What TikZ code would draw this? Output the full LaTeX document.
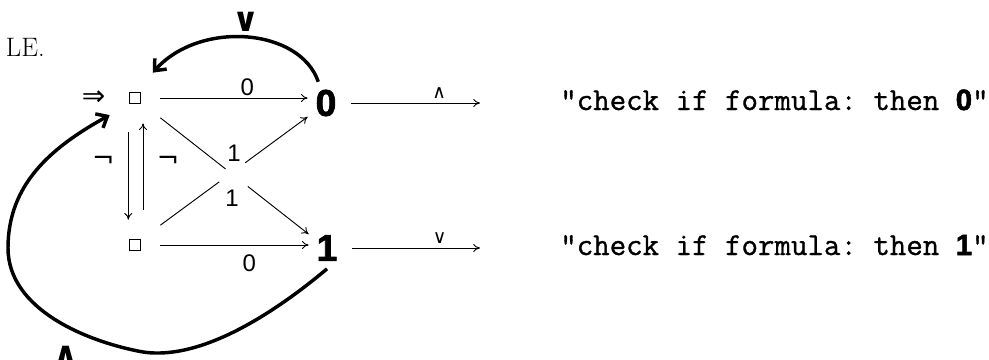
\documentclass[tikz,border=0pt]{standalone}
\usepackage{amsmath,amssymb}
\usepackage{fontspec}
\setsansfont{Liberation Sans}
\newfontfamily\heavyfont{Liberation Sans}[FakeBold=2]
\newfontfamily\logicfont{DejaVu Sans}
\newfontfamily\typefont{Latin Modern Mono}[FakeBold=1]
\usetikzlibrary{positioning,calc,arrows.meta}

\newcommand{\fsz}[1]{\fontsize{#1}{#1}\selectfont}

\begin{document}
\begin{tikzpicture}[x=0.75pt, y=-0.75pt,
    every node/.style={text=black},
    sq/.style={draw, line width=0.8pt, minimum size=8pt, inner sep=0pt, outer sep=15pt},
    digit/.style={font=\fsz{28}\heavyfont\bfseries, inner sep=0pt, outer sep=6pt},
    lbl/.style={font=\fsz{18}\sffamily, inner sep=1pt},
    neg/.style={font=\fsz{20}\logicfont, inner sep=0pt},
    op/.style={font=\fsz{14}\logicfont, inner sep=1pt},
    bigop/.style={font=\fsz{25}\logicfont\bfseries, inner sep=1pt},
    say/.style={font=\fsz{24}\typefont\frenchspacing, anchor=base west, inner sep=0pt},
    arr/.style={-{To[length=5pt,width=6pt]}, line width=0.7pt},
    back/.style={-{Straight Barb[length=7pt,width=12pt]}, line width=2.6pt},
  ]
  \useasboundingbox (0,0) rectangle (989,360);

  % heading cut off at the left
  \node[font=\fsz{20}, anchor=base east, inner sep=0pt] (head) at (45,57) {LE.};

  % the two states and the two results
  \node[sq] (topsq) at (135,98) {};
  \node[sq] (botsq) at (135,245) {};
  \node[font=\fsz{21}\logicfont, inner sep=0pt, left=3pt of topsq] (start) {⇒};
  \node[digit] (zero) at (326,103) {0};
  \node[digit] (one)  at (327,248) {1};

  % negation between the states
  \draw[arr, shorten <=6.75pt] ([xshift=-5pt]topsq.south) -- ([xshift=-5pt]botsq.north)
        node[neg, left=10pt, pos=.4] (nega) {¬};
  \draw[arr, shorten <=7.5pt] ([xshift=6pt]botsq.north) -- ([xshift=6pt]topsq.south)
        node[neg, right=10pt, pos=.6] (negb) {¬};

  % reading 0
  \draw[arr] (topsq.east) -- (topsq.east -| zero.west) node[lbl, above=0pt, pos=.59] (zeroa) {0};
  \draw[arr] (botsq.east) -- (botsq.east -| one.west) node[lbl, below=6pt, pos=.6] (zerob) {0};

  % reading 1, crossing
  \draw[line width=0.7pt] (topsq.-38) -- ($(topsq.-38)!.44!(one.143)$);
  \draw[arr] ($(topsq.-38)!.59!(one.143)$) -- (one.143);
  \draw[line width=0.7pt] (botsq.38) -- ($(botsq.38)!.40!(zero.217)$);
  \draw[arr] ($(botsq.38)!.576!(zero.217)$) -- (zero.217);
  \node[lbl] (onea) at (234,153) {1};
  \node[lbl] (oneb) at (232,198) {1};

  % going back
  \draw[back] (zero.110) .. controls (300,28) and (200,20) .. (topsq.55)
        node[bigop, above=2pt, pos=.5] (orop) {∨};
  \draw[back] (one.south) .. controls (278,310) and (203,361) .. (143,352)
        .. controls (88,342) and (8,310) .. (8,248)
        .. controls (8,185) and (50,148) .. (topsq.214);
  \node[bigop] (andop) at (66,356) {∧};

  % leaving
  \coordinate (end0) at (480,103);
  \coordinate (end1) at (480,248);
  \draw[arr, shorten <=5pt] (zero.east) -- (end0) node[op, above=2pt, pos=.7] (anda) {∧};
  \draw[arr, shorten <=5pt] (one.east) -- (end1) node[op, above=2pt, pos=.7] (ora) {∨};

  \node[say] (chk0) at (560,110) {"check if formula: then {\heavyfont\bfseries\fsz{22}0}"};
  \node[say] (chk1) at (560,255) {"check if formula: then {\heavyfont\bfseries\fsz{22}1}"};
\end{tikzpicture}
\end{document}
